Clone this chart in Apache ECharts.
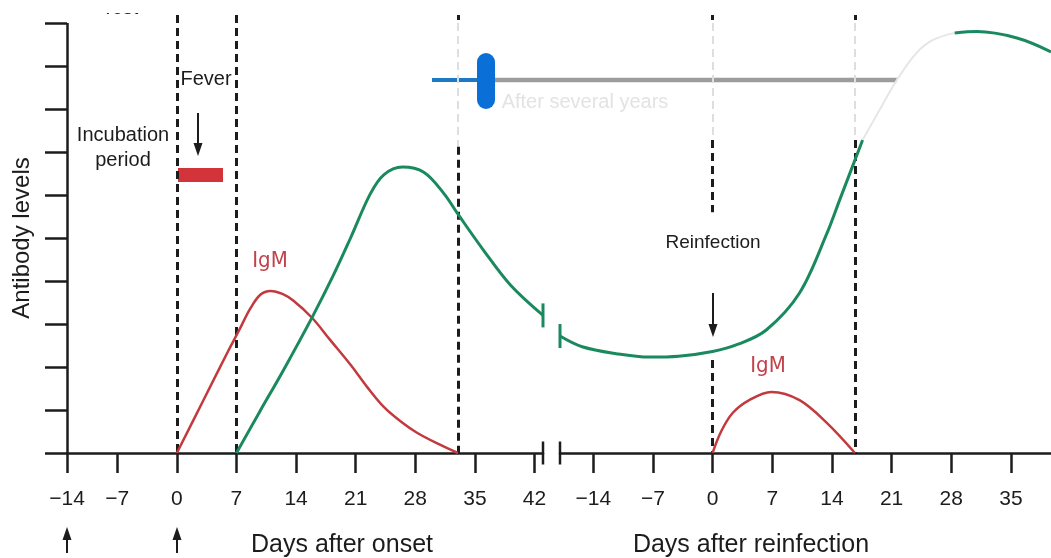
<!DOCTYPE html>
<html><head><meta charset="utf-8">
<script src="https://cdn.jsdelivr.net/npm/echarts@6/dist/echarts.min.js"></script>
<style>html,body{margin:0;padding:0;background:#fff}#c{width:1051px;height:558px}</style>
</head><body><div id="c"></div>
<script>
// ---- data ----
const onsetTickValues = [-12.9, -7, 0, 7, 14, 21, 28, 35, 42];
const onsetTickLabels = ['−14', '−7', '0', '7', '14', '21', '28', '35', '42'];
const reinfTickValues = [-14, -7, 0, 7, 14, 21, 28, 35];
const reinfTickLabels = ['−14', '−7', '0', '7', '14', '21', '28', '35'];
const levelTickValues = [0, 1, 2, 3, 4, 5, 6, 7, 8, 9, 10];

const igmOnset = [[0,0],[3,1.18],[6,2.36],[7.3,2.85],[8.6,3.35],[9.8,3.68],[11,3.77],[12.4,3.7],[13.7,3.54],[15.9,3.14],[18,2.63],[20.4,2.05],[22.4,1.52],[24.3,1.07],[26.3,0.73],[28.2,0.47],[30.7,0.21],[33,0]];
const iggOnset = [[7,0],[9.7,0.95],[12.5,1.92],[15.9,3.16],[18.3,4.1],[20.4,5.0],[22.7,6.02],[24.3,6.47],[26.5,6.65],[29,6.53],[31.3,6.05],[33.1,5.53],[36,4.72],[39.2,3.9],[43,3.2]];
const iggReinfEarly = [[-17.9,2.72],[-15.3,2.47],[-11.3,2.31],[-7.4,2.23],[-4,2.25],[0,2.36],[3,2.53],[6.3,2.86],[10.2,3.72],[13.4,5.1],[14.9,5.88],[17.6,7.28]];
const iggReinfFaded = [[17.6,7.28],[19.6,7.98],[21.6,8.67],[23.9,9.3],[25.8,9.6],[28.4,9.77]];
const iggReinfLate = [[28.4,9.77],[31,9.8],[35.7,9.65],[39.7,9.33]];
const igmReinf = [[0,0],[1,0.5],[2.35,0.93],[4.3,1.23],[6.9,1.42],[10.2,1.23],[13.4,0.7],[16.7,0]];
const onsetEvents = [0, 7, 33];
const reinfEvents = [0, 16.7];

// ---- styles ----
const FONT = "'Liberation Sans', Arial, sans-serif";
const INK = '#1c1c1c';
const GREEN = '#1a8a5e';
const RED = '#c23a3e';
const DASH = [8, 5];
const YMAX = 10.186;   // plot area reaches a bit above the top tick

const chart = echarts.init(document.getElementById('c'), null, {renderer: 'canvas'});

function labelFor(vals, labs) {
  return v => { const i = vals.findIndex(t => Math.abs(t - v) < 1e-6); return i >= 0 ? labs[i] : ''; };
}
function seg(x, y1, y2, color, width, dashed) {
  return [{coord: [x, y1], lineStyle: {color, width, type: dashed ? DASH : 'solid'}}, {coord: [x, y2]}];
}
const TOP = YMAX, DOT = 10.07;
const onsetLines = [seg(onsetTickValues[0], 10, 0, INK, 2.5, false)];   // the y axis line itself
onsetEvents.forEach((d, i) => {
  if (i < 2) onsetLines.push(seg(d, TOP, 0, INK, 3, true));
  else {
    onsetLines.push(seg(d, TOP, DOT, INK, 3, false));
    onsetLines.push(seg(d, 10.0, 7.12, '#dedede', 2, true));
    onsetLines.push(seg(d, 7.12, 0, INK, 3, true));
  }
});
const reinfLines = [];
reinfEvents.forEach((d, i) => {
  reinfLines.push(seg(d, TOP, DOT, INK, 3, false));
  reinfLines.push(seg(d, 10.0, 7.28, '#dedede', 2, true));
  if (i === 0) {
    reinfLines.push(seg(d, 7.28, 5.6, INK, 3, true));
    reinfLines.push(seg(d, 2.16, 0, INK, 3, true));
  } else {
    reinfLines.push(seg(d, 7.28, 0, INK, 3, true));
  }
});

function xAxisCfg(grid, min, max, vals, labs) {
  return {
    type: 'value', gridIndex: grid, min, max,
    axisLine: {show: true, onZero: false, lineStyle: {color: INK, width: 2.5}},
    axisTick: {show: true, length: 20, customValues: vals, lineStyle: {color: INK, width: 2.5}},
    axisLabel: {show: true, customValues: vals, formatter: labelFor(vals, labs), margin: 36,
      color: INK, fontSize: 21, fontFamily: FONT},
    splitLine: {show: false}
  };
}
function lineSeries(data, xi, color, width, extra) {
  return Object.assign({
    type: 'line', data, xAxisIndex: xi, yAxisIndex: xi, smooth: 0.35, showSymbol: false,
    symbol: 'none', silent: true, clip: false,
    lineStyle: {color, width}, itemStyle: {color}
  }, extra || {});
}
function arrow(x, tail, head) {
  const dir = head > tail ? 1 : -1;
  return {
    type: 'group', children: [
      {type: 'line', shape: {x1: x, y1: tail, x2: x, y2: head - dir * 8}, style: {stroke: INK, lineWidth: 2}},
      {type: 'polygon', shape: {points: [[x - 4.5, head - dir * 13], [x + 4.5, head - dir * 13], [x, head]]}, style: {fill: INK}}
    ]
  };
}
function txt(x, y, text, size, color, family, extra) {
  return Object.assign({type: 'text', x, y, style: {text, fill: color || INK, font: size + 'px ' + (family || FONT),
    textAlign: 'center', textVerticalAlign: 'middle'}}, extra || {});
}

const breakBar = {symbol: 'rect', symbolSize: [2.5, 23], itemStyle: {color: INK}, label: {show: false}};
const IGM_FONT = "'Liberation Sans Narrow', 'DejaVu Sans Condensed', sans-serif";

const option = {
  animation: false,
  backgroundColor: '#fff',
  grid: [
    {left: 67, top: 15, width: 476, height: 438, containLabel: false, outerBoundsMode: 'none'},
    {left: 560, top: 15, width: 491, height: 438, containLabel: false, outerBoundsMode: 'none'}
  ],
  xAxis: [
    xAxisCfg(0, -12.9, 43, onsetTickValues, onsetTickLabels),
    xAxisCfg(1, -17.9, 39.7, reinfTickValues, reinfTickLabels)
  ],
  yAxis: [
    {type: 'value', gridIndex: 0, min: 0, max: YMAX,
      axisLine: {show: false, onZero: false},
      axisTick: {show: true, length: 22, customValues: levelTickValues, lineStyle: {color: INK, width: 2.5}},
      axisLabel: {show: false}, splitLine: {show: false}},
    {type: 'value', gridIndex: 1, min: 0, max: YMAX, show: false, splitLine: {show: false}}
  ],
  series: [
    lineSeries(igmOnset, 0, RED, 2.5, {
      markLine: {silent: true, symbol: ['none', 'none'], label: {show: false}, data: onsetLines, z: 1}
    }),
    lineSeries(iggOnset, 0, GREEN, 3, {
      markPoint: {silent: true, data: [
        {coord: iggOnset[iggOnset.length - 1], symbol: 'rect', symbolSize: [3, 24], itemStyle: {color: GREEN}, label: {show: false}},
        Object.assign({coord: [43, 0]}, breakBar)
      ]}
    }),
    lineSeries(iggReinfEarly, 1, GREEN, 3, {
      markPoint: {silent: true, data: [
        {coord: iggReinfEarly[0], symbol: 'rect', symbolSize: [3, 24], itemStyle: {color: GREEN}, label: {show: false}},
        Object.assign({coord: [-17.9, 0]}, breakBar)
      ]},
      markLine: {silent: true, symbol: ['none', 'none'], label: {show: false}, data: reinfLines, z: 1}
    }),
    lineSeries(iggReinfFaded, 1, '#e6e6e6', 2),
    lineSeries(iggReinfLate, 1, GREEN, 3),
    lineSeries(igmReinf, 1, RED, 2.5)
  ],
  graphic: [
    txt(120, 8, 'Test', 20, INK),
    {type: 'rect', shape: {x: 85, y: 0, width: 70, height: 13}, style: {fill: '#fff'}, z: 10},
    txt(22, 238, 'Antibody levels', 24, INK, null, {rotation: Math.PI / 2}),
    txt(206, 79, 'Fever', 20, INK),
    arrow(198, 113, 156),
    {type: 'rect', shape: {x: 178, y: 168, width: 45, height: 14}, style: {fill: '#d3343a'}},
    txt(123, 135, 'Incubation', 20, INK),
    txt(123, 160, 'period', 20, INK),
    txt(270, 261, 'IgM', 22, '#c2424c', IGM_FONT),
    txt(768, 366, 'IgM', 22, '#c2424c', IGM_FONT),
    txt(713, 243, 'Reinfection', 19, INK),
    arrow(713, 293, 337),
    {type: 'line', shape: {x1: 492, y1: 80, x2: 897, y2: 80}, style: {stroke: '#9c9c9c', lineWidth: 4.5}},
    {type: 'line', shape: {x1: 432, y1: 80, x2: 480, y2: 80}, style: {stroke: '#1d78c6', lineWidth: 4}},
    {type: 'rect', shape: {x: 477, y: 53, width: 18, height: 56, r: 9}, style: {fill: '#0a6fd6'}},
    txt(585, 102, 'After several years', 20, '#e3e3e3'),
    txt(342, 545, 'Days after onset', 25, INK),
    txt(751, 545, 'Days after reinfection', 25, INK),
    arrow(67, 553, 527),
    arrow(177, 553, 527)
  ]
};
chart.setOption(option);
</script>
</body></html>
